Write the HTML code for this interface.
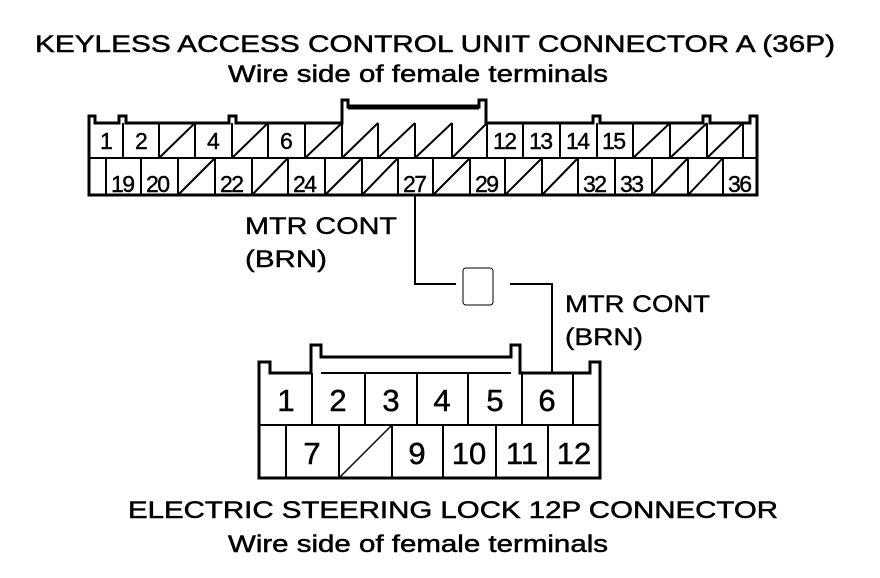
<!DOCTYPE html>
<html><head><meta charset="utf-8"><style>body{margin:0;background:#fff}svg{display:block}</style></head>
<body>
<svg width="880" height="578" viewBox="0 0 880 578" xmlns="http://www.w3.org/2000/svg" font-family="Liberation Sans, Arial, sans-serif" fill="#000">
<rect width="880" height="578" fill="#fff"/>
<g stroke="#000" stroke-width="0.5">
<text x="35" y="52" font-size="24" textLength="800" lengthAdjust="spacingAndGlyphs">KEYLESS ACCESS CONTROL UNIT CONNECTOR A (36P)</text>
<text x="228" y="82" font-size="24" textLength="380" lengthAdjust="spacingAndGlyphs">Wire side of female terminals</text>
</g>

<g stroke="#000" fill="none">
<path stroke-width="3" d="M89,195 V116 H95 V123 H119 V116 H126 V123 H229 V116 H236 V123 H342 V100 H348 V107 H479 V100 H486 V123 H593 V116 H600 V123 H703 V116 H710 V123 H750 V116 H757 V195 Z"/>
<line stroke-width="5" x1="348" y1="107" x2="479" y2="107"/>
<line stroke-width="2" x1="89" y1="158" x2="757" y2="158"/>
<g stroke-width="2">
<line x1="123" y1="123" x2="123" y2="158"/><line x1="159" y1="123" x2="159" y2="158"/><line x1="195" y1="123" x2="195" y2="158"/><line x1="232" y1="123" x2="232" y2="158"/><line x1="268" y1="123" x2="268" y2="158"/><line x1="305" y1="123" x2="305" y2="158"/><line x1="342" y1="123" x2="342" y2="158"/><line x1="378" y1="123" x2="378" y2="158"/><line x1="415" y1="123" x2="415" y2="158"/><line x1="452" y1="123" x2="452" y2="158"/><line x1="487" y1="123" x2="487" y2="158"/><line x1="523" y1="123" x2="523" y2="158"/><line x1="560" y1="123" x2="560" y2="158"/><line x1="597" y1="123" x2="597" y2="158"/><line x1="633" y1="123" x2="633" y2="158"/><line x1="670" y1="123" x2="670" y2="158"/><line x1="707" y1="123" x2="707" y2="158"/><line x1="743" y1="123" x2="743" y2="158"/>
<line x1="106" y1="158" x2="106" y2="195"/><line x1="141" y1="158" x2="141" y2="195"/><line x1="178" y1="158" x2="178" y2="195"/><line x1="215" y1="158" x2="215" y2="195"/><line x1="252" y1="158" x2="252" y2="195"/><line x1="288" y1="158" x2="288" y2="195"/><line x1="325" y1="158" x2="325" y2="195"/><line x1="362" y1="158" x2="362" y2="195"/><line x1="398" y1="158" x2="398" y2="195"/><line x1="433" y1="158" x2="433" y2="195"/><line x1="470" y1="158" x2="470" y2="195"/><line x1="505" y1="158" x2="505" y2="195"/><line x1="542" y1="158" x2="542" y2="195"/><line x1="578" y1="158" x2="578" y2="195"/><line x1="615" y1="158" x2="615" y2="195"/><line x1="652" y1="158" x2="652" y2="195"/><line x1="688" y1="158" x2="688" y2="195"/><line x1="723" y1="158" x2="723" y2="195"/>
<line x1="159" y1="158" x2="195" y2="123"/><line x1="232" y1="158" x2="268" y2="123"/><line x1="305" y1="158" x2="342" y2="123"/><line x1="342" y1="158" x2="378" y2="123"/><line x1="378" y1="158" x2="415" y2="123"/><line x1="415" y1="158" x2="452" y2="123"/><line x1="452" y1="158" x2="487" y2="123"/><line x1="633" y1="158" x2="670" y2="123"/><line x1="670" y1="158" x2="707" y2="123"/><line x1="707" y1="158" x2="743" y2="123"/>
<line x1="178" y1="195" x2="215" y2="158"/><line x1="252" y1="195" x2="288" y2="158"/><line x1="325" y1="195" x2="362" y2="158"/><line x1="362" y1="195" x2="398" y2="158"/><line x1="433" y1="195" x2="470" y2="158"/><line x1="505" y1="195" x2="542" y2="158"/><line x1="542" y1="195" x2="578" y2="158"/><line x1="652" y1="195" x2="688" y2="158"/><line x1="688" y1="195" x2="723" y2="158"/>
</g>
<path stroke-width="2" d="M415,195 V284 H456"/>
<path stroke-width="2" d="M510,284 H552 V373"/>
<rect x="463" y="268" width="30" height="37" rx="3" stroke-width="1"/>
<path stroke-width="3" d="M259,478 V362 H270 V373 H311 V345 H321 V357 H511 V345 H520 V373 H590 V362 H600 V478 Z"/>
<line stroke-width="3" x1="321" y1="357" x2="511" y2="357"/>
<line stroke-width="2" x1="321" y1="373" x2="511" y2="373"/>
<line stroke-width="2" x1="259" y1="425" x2="600" y2="425"/>
<g stroke-width="2">
<line x1="312" y1="373" x2="312" y2="425"/><line x1="365" y1="373" x2="365" y2="425"/><line x1="417" y1="373" x2="417" y2="425"/><line x1="468" y1="373" x2="468" y2="425"/><line x1="522" y1="373" x2="522" y2="425"/><line x1="573" y1="373" x2="573" y2="425"/>
<line x1="286" y1="425" x2="286" y2="478"/><line x1="339" y1="425" x2="339" y2="478"/><line x1="392" y1="425" x2="392" y2="478"/><line x1="443" y1="425" x2="443" y2="478"/><line x1="496" y1="425" x2="496" y2="478"/><line x1="548" y1="425" x2="548" y2="478"/>
<line x1="339" y1="478" x2="392" y2="425" stroke-width="1.5"/>
</g>
</g>

<g font-size="23" stroke="#000" stroke-width="0.4" lengthAdjust="spacingAndGlyphs">
<text x="100" y="149" textLength="10">1</text><text x="135" y="149" textLength="12">2</text><text x="207" y="149" textLength="12">4</text><text x="280" y="149" textLength="12">6</text>
<text x="493" y="149" textLength="24">12</text><text x="529" y="149" textLength="24">13</text><text x="566" y="149" textLength="24">14</text><text x="602" y="149" textLength="24">15</text>
<text x="111" y="192" textLength="24">19</text><text x="146" y="192" textLength="24">20</text><text x="220" y="192" textLength="24">22</text><text x="293" y="192" textLength="24">24</text><text x="403" y="192" textLength="24">27</text><text x="475" y="192" textLength="24">29</text><text x="583" y="192" textLength="24">32</text><text x="620" y="192" textLength="24">33</text><text x="728" y="192" textLength="24">36</text>
</g>

<g font-size="24" stroke="#000" stroke-width="0.4">
<text x="245" y="234" textLength="152" lengthAdjust="spacingAndGlyphs">MTR CONT</text><text x="245" y="267" textLength="82" lengthAdjust="spacingAndGlyphs">(BRN)</text>
<text x="565" y="312" textLength="145" lengthAdjust="spacingAndGlyphs">MTR CONT</text><text x="565" y="345" textLength="78" lengthAdjust="spacingAndGlyphs">(BRN)</text>
</g>

<g font-size="31" text-anchor="middle" stroke="#000" stroke-width="0.5">
<text x="286" y="411">1</text><text x="338" y="411">2</text><text x="391" y="411">3</text><text x="442" y="411">4</text><text x="495" y="411">5</text><text x="547" y="411">6</text>
<text x="312" y="464">7</text><text x="417" y="464">9</text><text x="469" y="464">10</text><text x="522" y="464">11</text><text x="574" y="464">12</text>
</g>

<g stroke="#000" stroke-width="0.5">
<text x="128" y="518" font-size="24" textLength="650" lengthAdjust="spacingAndGlyphs">ELECTRIC STEERING LOCK 12P CONNECTOR</text>
<text x="228" y="552" font-size="24" textLength="380" lengthAdjust="spacingAndGlyphs">Wire side of female terminals</text>
</g>
</svg>
</body></html>
